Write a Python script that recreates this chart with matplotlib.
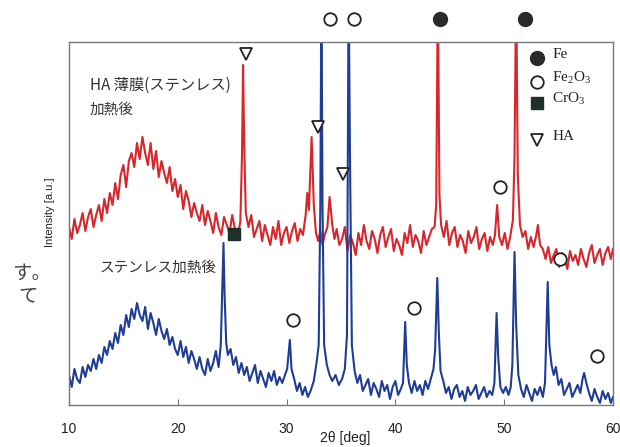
import matplotlib
matplotlib.use('Agg')
import matplotlib.pyplot as plt

plt.rcParams['font.family'] = ['Noto Sans CJK JP', 'DejaVu Sans']
plt.rcParams['mathtext.default'] = 'regular'

# ===== データ (2θ [deg], 強度 [a.u.]) =====
# HA 薄膜(ステンレス) 加熱後 — 赤
red_tt = [10.0, 10.25, 10.5, 10.75, 11.0, 11.25, 11.5, 11.75, 12.0, 12.25, 12.5, 12.75,
          13.0, 13.25, 13.5, 13.75, 14.0, 14.25, 14.5, 14.75, 15.0, 15.25, 15.5, 15.75,
          16.0, 16.25, 16.5, 16.75, 17.0, 17.25, 17.5, 17.75, 18.0, 18.25, 18.5, 18.75,
          19.0, 19.25, 19.5, 19.75, 20.0, 20.25, 20.5, 20.75, 21.0, 21.25, 21.5, 21.75,
          22.0, 22.25, 22.5, 22.75, 23.0, 23.25, 23.5, 23.75, 24.0, 24.25, 24.5, 24.75,
          25.0, 25.25, 25.5, 25.75, 25.9, 26.0, 26.1, 26.25, 26.5, 26.75, 27.0, 27.25,
          27.5, 27.75, 28.0, 28.25, 28.5, 28.75, 29.0, 29.25, 29.5, 29.75, 30.0, 30.25,
          30.5, 30.75, 31.0, 31.25, 31.5, 31.75, 31.9, 32.05, 32.3, 32.5, 32.7, 32.9,
          33.1, 33.3, 33.5, 33.75, 33.95, 34.2, 34.4, 34.6, 34.85, 35.1, 35.35, 35.6,
          35.85, 36.1, 36.35, 36.6, 36.85, 37.1, 37.35, 37.6, 37.85, 38.1, 38.35, 38.6,
          38.85, 39.1, 39.35, 39.6, 39.85, 40.1, 40.35, 40.6, 40.85, 41.1, 41.35, 41.6,
          41.85, 42.1, 42.35, 42.6, 42.85, 43.1, 43.35, 43.6, 43.75, 43.9, 44.05, 44.2,
          44.45, 44.7, 44.95, 45.2, 45.45, 45.7, 45.95, 46.2, 46.45, 46.7, 46.95, 47.2,
          47.45, 47.7, 47.95, 48.2, 48.45, 48.7, 48.95, 49.15, 49.35, 49.55, 49.8, 50.05,
          50.3, 50.55, 50.8, 50.95, 51.1, 51.25, 51.45, 51.7, 51.95, 52.2, 52.45, 52.7,
          52.95, 53.1, 53.3, 53.55, 53.8, 54.05, 54.3, 54.55, 54.8, 55.05, 55.3, 55.55,
          55.8, 56.05, 56.3, 56.55, 56.8, 57.05, 57.3, 57.55, 57.8, 58.05, 58.3, 58.55,
          58.8, 59.05, 59.3, 59.55, 59.8, 60.0]
red_int = [178, 166, 186, 172, 180, 192, 174, 188, 196, 178, 190, 200,
           184, 206, 192, 212, 200, 222, 206, 230, 240, 218, 244, 252,
           238, 262, 246, 268, 252, 240, 262, 236, 254, 228, 244, 232,
           222, 238, 214, 226, 208, 220, 196, 214, 204, 188, 202, 192,
           184, 200, 180, 194, 184, 172, 192, 178, 170, 188, 180, 172,
           190, 176, 168, 184, 250, 340, 262, 192, 178, 190, 168, 176,
           184, 164, 180, 170, 160, 178, 166, 184, 160, 172, 178, 162,
           174, 182, 164, 176, 170, 190, 212, 195, 268, 200, 172, 164,
           174, 160, 170, 178, 208, 180, 166, 176, 160, 166, 178, 154,
           170, 162, 150, 172, 160, 180, 164, 156, 174, 166, 152, 170,
           178, 158, 168, 176, 154, 166, 160, 150, 172, 162, 180, 158,
           170, 164, 152, 174, 160, 168, 176, 178, 200, 420, 210, 180,
           168, 184, 160, 172, 178, 158, 170, 164, 152, 174, 162, 168,
           178, 156, 166, 172, 154, 168, 160, 170, 200, 168, 160, 172,
           156, 168, 185, 250, 420, 230, 180, 168, 174, 156, 168, 158,
           170, 180, 160, 156, 146, 158, 142, 150, 156, 138, 152, 146,
           136, 154, 144, 150, 140, 156, 146, 138, 152, 160, 142, 150,
           156, 140, 152, 158, 146, 156]

# ステンレス加熱後 — 青
blue_tt = [10.0, 10.25, 10.5, 10.75, 11.0, 11.25, 11.5, 11.75, 12.0, 12.25, 12.5, 12.75,
           13.0, 13.25, 13.5, 13.75, 14.0, 14.25, 14.5, 14.75, 15.0, 15.25, 15.5, 15.75,
           16.0, 16.25, 16.5, 16.75, 17.0, 17.25, 17.5, 17.75, 18.0, 18.25, 18.5, 18.75,
           19.0, 19.25, 19.5, 19.75, 20.0, 20.25, 20.5, 20.75, 21.0, 21.25, 21.5, 21.75,
           22.0, 22.25, 22.5, 22.75, 23.0, 23.25, 23.5, 23.75, 23.95, 24.1, 24.2, 24.3,
           24.45, 24.6, 24.85, 25.1, 25.35, 25.6, 25.85, 26.1, 26.35, 26.6, 26.85, 27.1,
           27.35, 27.6, 27.85, 28.1, 28.35, 28.6, 28.85, 29.1, 29.35, 29.6, 29.85, 30.05,
           30.3, 30.45, 30.7, 30.95, 31.2, 31.45, 31.7, 31.95, 32.2, 32.5, 32.75, 32.95,
           33.1, 33.2, 33.3, 33.45, 33.7, 33.95, 34.2, 34.5, 34.8, 35.1, 35.35, 35.55,
           35.7, 35.85, 36.0, 36.25, 36.5, 36.75, 37.0, 37.25, 37.5, 37.75, 38.0, 38.25,
           38.5, 38.75, 39.0, 39.25, 39.5, 39.75, 40.0, 40.25, 40.5, 40.7, 40.9, 41.05,
           41.25, 41.5, 41.75, 42.0, 42.25, 42.5, 42.75, 43.0, 43.25, 43.5, 43.65, 43.85,
           44.0, 44.15, 44.4, 44.65, 44.9, 45.15, 45.4, 45.65, 45.9, 46.15, 46.4, 46.65,
           46.9, 47.15, 47.4, 47.65, 47.9, 48.15, 48.4, 48.65, 48.9, 49.1, 49.3, 49.45,
           49.65, 49.9, 50.15, 50.4, 50.6, 50.75, 50.95, 51.1, 51.3, 51.55, 51.8, 52.05,
           52.3, 52.55, 52.8, 53.05, 53.3, 53.55, 53.75, 54.0, 54.15, 54.35, 54.55, 54.75,
           55.0, 55.25, 55.5, 55.75, 56.0, 56.25, 56.5, 56.75, 57.0, 57.2, 57.35, 57.55,
           57.8, 58.05, 58.3, 58.55, 58.8, 59.05, 59.3, 59.55, 59.8, 60.0]
blue_int = [30, 18, 36, 26, 22, 38, 28, 40, 34, 46, 36, 50,
            42, 58, 50, 64, 56, 72, 62, 80, 70, 90, 78, 96,
            86, 102, 90, 84, 98, 76, 92, 82, 70, 86, 74, 66,
            76, 60, 68, 56, 50, 64, 48, 58, 42, 54, 46, 36,
            48, 36, 30, 46, 34, 42, 54, 38, 60, 120, 162, 110,
            62, 50, 56, 40, 48, 32, 42, 30, 38, 24, 32, 40,
            22, 34, 26, 18, 32, 24, 34, 20, 28, 22, 30, 36,
            65, 36, 26, 14, 22, 10, 18, 8, 14, 24, 42, 60,
            200, 420, 200, 60, 40, 30, 24, 30, 20, 26, 36, 70,
            420, 220, 60, 34, 22, 30, 14, 20, 26, 10, 22, 16,
            8, 24, 14, 20, 6, 18, 24, 10, 16, 22, 83, 40,
            22, 12, 24, 14, 20, 10, 24, 16, 26, 36, 55, 127,
            70, 34, 24, 12, 18, 6, 16, 20, 8, 14, 4, 18,
            10, 14, 20, 6, 12, 18, 8, 14, 10, 22, 92, 48,
            18, 12, 18, 10, 18, 40, 153, 80, 30, 16, 8, 20,
            12, 4, 16, 10, 18, 8, 22, 123, 60, 40, 30, 38,
            20, 26, 10, 16, 22, 8, 14, 20, 12, 26, 32, 22,
            12, 4, 16, 8, 2, 14, 6, 12, 2, 8]

# ピーク帰属マーカー (2θ, 強度)
fe_pts = [(44.1, 386), (51.9, 386)]
fe2o3_pts = [(34.0, 386), (36.2, 386), (49.6, 218), (55.1, 146),
             (30.6, 85), (41.7, 97), (58.5, 49)]
cro3_pts = [(25.2, 171)]
ha_pts = [(26.3, 351), (32.9, 278), (35.2, 231)]

legend_labels = ['Fe', 'Fe$_2$O$_3$', 'CrO$_3$', 'HA']
legend_y = [347, 323, 302, 265]

# ===== 描画 =====
fig = plt.figure(figsize=(6.2, 4.47), dpi=100)
ax = fig.add_axes([0.1113, 0.094, 0.8774, 0.812])

ax.plot(red_tt, red_int, color='#d8262b', linewidth=1.5)
ax.plot(blue_tt, blue_int, color='#1f3d96', linewidth=1.5)

ax.set_xlim(10, 60)
ax.set_ylim(0, 363)

mk_open = dict(linestyle='none', markersize=9, markerfacecolor='white',
               markeredgecolor='#222222', markeredgewidth=1.3, clip_on=False)
mk_fill = dict(linestyle='none', markersize=10, color='#2a2a2a', clip_on=False)

ax.plot([p[0] for p in fe_pts], [p[1] for p in fe_pts], marker='o', **mk_fill)
ax.plot([p[0] for p in fe2o3_pts], [p[1] for p in fe2o3_pts], marker='o', **mk_open)
ax.plot([p[0] for p in cro3_pts], [p[1] for p in cro3_pts], marker='s',
        linestyle='none', markersize=9, color='#1d302a', clip_on=False)
ax.plot([p[0] for p in ha_pts], [p[1] for p in ha_pts], marker='v', **mk_open)

# 凡例
lx = 53.0
ax.plot([lx], [legend_y[0]], marker='o', **mk_fill)
ax.plot([lx], [legend_y[1]], marker='o', **mk_open)
ax.plot([lx], [legend_y[2]], marker='s', linestyle='none', markersize=9,
        color='#1d302a', clip_on=False)
ax.plot([lx], [legend_y[3]], marker='v', **mk_open)
for lab, ly in zip(legend_labels, legend_y):
    ax.text(lx + 1.4, ly + 4, lab, fontsize=11, family='Liberation Serif',
            va='center', ha='left', color='#222222')

# 試料名
ax.text(11.9, 320, 'HA 薄膜(ステンレス)', fontsize=11, color='#333333', va='center')
ax.text(11.9, 295, '加熱後', fontsize=10.5, color='#333333', va='center')
ax.text(12.8, 137, 'ステンレス加熱後', fontsize=10.5, color='#333333', va='center')

# 軸
for s in ax.spines.values():
    s.set_color('#777777')
    s.set_linewidth(1.0)
ax.set_xticks([10, 20, 30, 40, 50, 60])
ax.tick_params(axis='x', direction='in', length=4, color='#777777',
               labelsize=10, pad=12, labelcolor='#222222')
for lbl in ax.get_xticklabels():
    lbl.set_family(['Liberation Sans', 'DejaVu Sans'])
ax.set_yticks([])

fig.text(345 / 620, 1 - 438 / 447, '2θ [deg]', fontsize=10, ha='center', va='center',
         family=['Liberation Sans', 'DejaVu Sans'], color='#222222')
fig.text(50 / 620, 1 - 212 / 447, 'Intensity [a.u.]', fontsize=8, rotation=90,
         ha='center', va='center', family=['Liberation Sans', 'DejaVu Sans'],
         color='#222222')

# 隣ページの写り込み
fig.text(32 / 620, 1 - 273 / 447, 'す。', fontsize=14, ha='center', va='center',
         color='#444444')
fig.text(28 / 620, 1 - 296 / 447, 'て', fontsize=14, ha='center', va='center',
         color='#444444')

fig.savefig('out.png', dpi=100)
